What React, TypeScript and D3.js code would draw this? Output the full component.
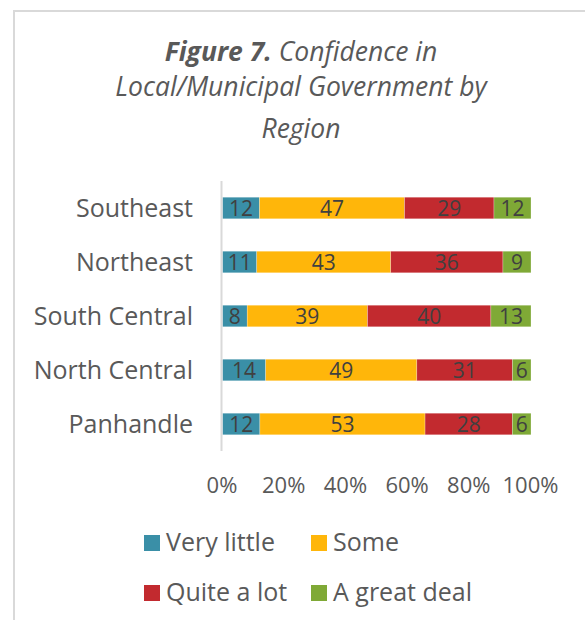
import React, { useEffect, useRef } from 'react';
import * as d3 from 'd3';

// regions, top to bottom
const regions = ['Southeast', 'Northeast', 'South Central', 'North Central', 'Panhandle'];

// percent per answer, same order as regions
const veryLittle = [12, 11, 8, 14, 12];
const some = [47, 43, 39, 49, 53];
const quiteALot = [29, 36, 40, 31, 28];
const greatDeal = [12, 9, 13, 6, 6];

const seriesNames = ['Very little', 'Some', 'Quite a lot', 'A great deal'];
const seriesColors = ['#3a8fa7', '#ffb60a', '#c22a2f', '#7fa936'];

const tickValues = [0, 0.2, 0.4, 0.6, 0.8, 1];

const FONT = "'Open Sans', sans-serif";

const App = () => {
  const ref = useRef<SVGSVGElement>(null);

  useEffect(() => {
    const svg = d3.select(ref.current);
    svg.selectAll('*').remove();

    // frame
    svg.append('path')
      .attr('d', 'M14,620 L14,11 L585,11')
      .attr('fill', 'none')
      .attr('stroke', '#d9d9d9')
      .attr('stroke-width', 2);

    // title
    const title = svg.append('g')
      .attr('font-family', FONT)
      .attr('font-size', 26.5)
      .attr('font-style', 'italic')
      .attr('fill', '#595959')
      .attr('text-anchor', 'middle');

    const t1 = title.append('text').attr('x', 301).attr('y', 61);
    t1.append('tspan').attr('font-weight', 'bold').text('Figure 7.');
    t1.append('tspan').text(' Confidence in');
    title.append('text').attr('x', 301).attr('y', 96).text('Local/Municipal Government by');
    title.append('text').attr('x', 301).attr('y', 138).text('Region');

    // scales
    const x = d3.scaleLinear().domain([0, 1]).range([222.5, 531]);
    const y = d3.scaleBand()
      .domain(regions)
      .range([181, 451])
      .paddingInner(0.6)
      .paddingOuter(0.3);

    // stack the four series
    const rows = regions.map((r, i) => ({
      region: r,
      'Very little': veryLittle[i],
      'Some': some[i],
      'Quite a lot': quiteALot[i],
      'A great deal': greatDeal[i],
    }));
    const stack = d3.stack<any>().keys(seriesNames).offset(d3.stackOffsetExpand);
    const layers = stack(rows);

    const bars = svg.append('g');
    layers.forEach((layer, li) => {
      const g = bars.append('g').attr('fill', seriesColors[li]);
      g.selectAll('rect')
        .data(layer)
        .enter()
        .append('rect')
        .attr('x', d => x(d[0]))
        .attr('y', d => y(d.data.region)!)
        .attr('width', d => x(d[1]) - x(d[0]))
        .attr('height', y.bandwidth())
        .attr('stroke', '#ffffff')
        .attr('stroke-opacity', 0.5)
        .attr('stroke-width', 0.5);

      // value labels
      g.selectAll('text')
        .data(layer)
        .enter()
        .append('text')
        .attr('x', d => (x(d[0]) + x(d[1])) / 2)
        .attr('y', d => y(d.data.region)! + y.bandwidth() / 2 + 7.7)
        .attr('text-anchor', 'middle')
        .attr('font-family', FONT)
        .attr('font-size', 21)
        .attr('fill', '#404040')
        .text(d => d.data[layer.key]);
    });

    // category axis line
    svg.append('line')
      .attr('x1', 221.5).attr('x2', 221.5)
      .attr('y1', 181).attr('y2', 451)
      .attr('stroke', '#d9d9d9')
      .attr('stroke-width', 2);

    // category labels
    svg.append('g')
      .selectAll('text')
      .data(regions)
      .enter()
      .append('text')
      .attr('x', 193)
      .attr('y', d => y(d)! + y.bandwidth() / 2 + 9)
      .attr('text-anchor', 'end')
      .attr('font-family', FONT)
      .attr('font-size', 25)
      .attr('fill', '#595959')
      .text(d => d);

    // value axis, labels only
    svg.append('g')
      .selectAll('text')
      .data(tickValues)
      .enter()
      .append('text')
      .attr('x', d => x(d) - 0.5)
      .attr('y', 493)
      .attr('text-anchor', 'middle')
      .attr('font-family', FONT)
      .attr('font-size', 22)
      .attr('fill', '#595959')
      .text(d => d3.format('.0%')(d));

    // legend, two per row
    const legend = svg.append('g')
      .attr('font-family', FONT)
      .attr('font-size', 25)
      .attr('fill', '#595959');
    const colX = [144, 311];
    const rowY = [535, 585];
    seriesNames.forEach((name, i) => {
      const lx = colX[i % 2];
      const ly = rowY[Math.floor(i / 2)];
      legend.append('rect')
        .attr('x', lx).attr('y', ly)
        .attr('width', 16).attr('height', 16)
        .attr('fill', seriesColors[i]);
      legend.append('text')
        .attr('x', lx + 22)
        .attr('y', ly + 16)
        .text(name);
    });
  }, []);

  return (
    <svg
      ref={ref}
      width={585}
      height={620}
      style={{ position: 'absolute', left: 0, top: 0, background: '#ffffff' }}
    />
  );
};

export default App;
